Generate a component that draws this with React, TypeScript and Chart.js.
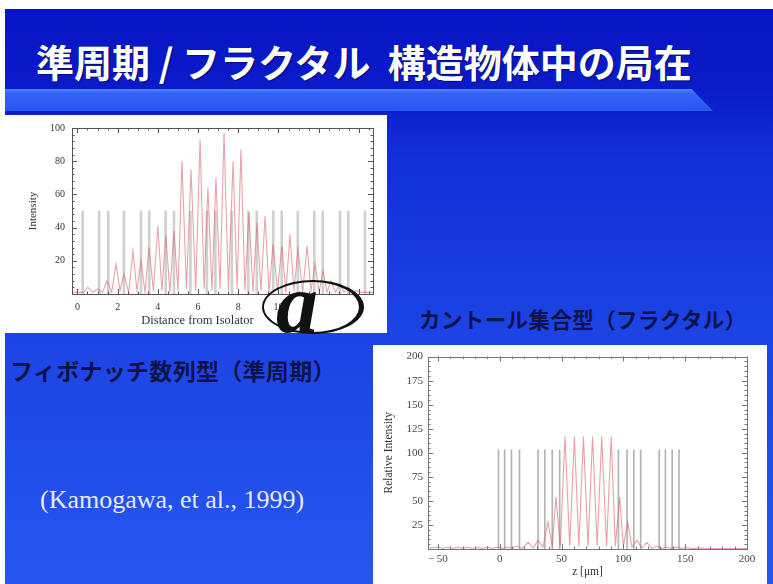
import React, { useEffect, useRef } from "react";
import { Chart, registerables } from "chart.js";

Chart.register(...registerables);

// ---------- text ----------
const TITLE = "準周期 / フラクタル  構造物体中の局在";
const CANTOR_LABEL = "カントール集合型（フラクタル）";
const FIB_LABEL = "フィボナッチ数列型（準周期）";
const CITATION = "(Kamogawa, et al., 1999)";

// ---------- Fibonacci (quasi-periodic) chart ----------
const fibXTicks = [0, 2, 4, 6, 8, 10, 12, 14];
const fibYTicks = [20, 40, 60, 80, 100];
const fibLayerX = [0.26, 1.08, 1.53, 2.31, 3.16, 3.57, 4.39, 4.8, 5.62, 6.44, 6.86, 7.68, 8.5, 8.92, 9.74, 10.16, 10.96, 11.78, 12.2, 13.06, 13.47, 14.3];
const fibLayerHeight = [50, 50, 50, 50, 50, 50, 50, 50, 50, 50, 50, 50, 50, 50, 50, 50, 50, 50, 50, 50, 50, 50];
const fibIntensityX = [-0.27, 0.3, 0.52, 0.75, 1.02, 1.25, 1.47, 1.7, 1.92, 2.12, 2.31, 2.55, 2.76, 2.96, 3.16, 3.36, 3.56, 3.78, 4.0, 4.2, 4.4, 4.6, 4.8, 5.0, 5.2, 5.42, 5.65, 5.88, 6.1, 6.3, 6.49, 6.69, 6.89, 7.09, 7.29, 7.51, 7.74, 7.94, 8.13, 8.33, 8.53, 8.73, 8.93, 9.13, 9.33, 9.53, 9.73, 9.95, 10.17, 10.37, 10.57, 10.77, 10.97, 11.2, 11.42, 11.62, 11.82, 12.02, 12.21, 12.41, 12.61, 12.83, 13.06, 13.26, 13.46, 13.66, 13.86, 14.1, 14.7];
const fibIntensityY = [1, 1, 4, 1, 3, 1, 8, 1, 18, 2, 12, 1, 26, 2, 20, 1, 28, 2, 41, 2, 35, 1, 38, 2, 80, 3, 75, 2, 93, 3, 64, 2, 70, 3, 97, 2, 80, 3, 87, 2, 49, 1, 43, 2, 47, 1, 30, 2, 29, 1, 36, 2, 27, 1, 29, 2, 18, 1, 14, 1, 8, 1, 6, 1, 4, 1, 2, 1, 1];

// ---------- Cantor (fractal) chart ----------
const cantorXTicks = [-50, 0, 50, 100, 150, 200];
const cantorYTicks = [25, 50, 75, 100, 125, 150, 175, 200];
const cantorLayerX = [-1, 4, 9.5, 16, 31, 36.5, 42.5, 48.5, 96, 103, 108.5, 114, 129, 134, 139.5, 145];
const cantorLayerHeight = [103, 103, 103, 103, 103, 103, 103, 103, 103, 103, 103, 103, 103, 103, 103, 103];
const cantorIntensityX = [-58, -50, -46, -42, -38, -34, -30, -26, -22, -18, -14, -10, -6, -2, 2, 6, 10, 14, 18, 23, 27, 31, 35, 39, 42.5, 45.5, 49, 52.8, 56.6, 60.4, 64, 67.7, 71.4, 75.1, 78.8, 82.5, 86.4, 90.2, 93.5, 97, 100, 103.5, 107, 111, 115, 119, 123, 127, 131, 135, 139, 143, 147, 151, 156, 162, 170, 180, 200];
const cantorIntensityY = [1, 2, 0.5, 2, 0.5, 2, 0.5, 2, 0.5, 2, 0.5, 2, 0.5, 2, 0.5, 2, 0.5, 3, 0.5, 7, 1, 9, 2, 28, 3, 54, 3, 117, 3, 117, 3, 117, 3, 117, 3, 117, 3, 117, 3, 54, 3, 28, 2, 9, 1, 7, 0.5, 3, 0.5, 2, 0.5, 2, 0.5, 1.5, 0.5, 1, 0.5, 0.5, 0.5];

const SERIF = "'Liberation Serif', 'DejaVu Serif', serif";
const JP = "'Noto Sans CJK JP', 'Noto Sans', sans-serif";

// frame with inward (Mathematica-style) tick marks on all four sides
const framePlugin = {
  id: "frame",
  afterDatasetsDraw(chart: any, _args: any, opts: any) {
    const { ctx, chartArea: a, scales } = chart;
    const xs = scales.x;
    const ys = scales.y;
    ctx.save();
    ctx.strokeStyle = opts.color;
    ctx.lineWidth = 1;
    ctx.strokeRect(Math.round(a.left) + 0.5, Math.round(a.top) + 0.5, Math.round(a.right - a.left), Math.round(a.bottom - a.top));
    ctx.beginPath();
    const xMarks = (step: number, len: number) => {
      for (let v = Math.ceil(xs.min / step) * step; v <= xs.max + 1e-9; v += step) {
        const p = Math.round(xs.getPixelForValue(v)) + 0.5;
        ctx.moveTo(p, a.bottom);
        ctx.lineTo(p, a.bottom - len);
        ctx.moveTo(p, a.top);
        ctx.lineTo(p, a.top + len);
      }
    };
    const yMarks = (step: number, len: number) => {
      for (let v = Math.ceil(ys.min / step) * step; v <= ys.max + 1e-9; v += step) {
        const p = Math.round(ys.getPixelForValue(v)) + 0.5;
        ctx.moveTo(a.left, p);
        ctx.lineTo(a.left + len, p);
        ctx.moveTo(a.right, p);
        ctx.lineTo(a.right - len, p);
      }
    };
    xMarks(opts.xMajor, 5);
    xMarks(opts.xMinor, 2.5);
    yMarks(opts.yMajor, 5);
    yMarks(opts.yMinor, 2.5);
    ctx.stroke();
    ctx.restore();
  },
};

function FibChart() {
  const ref = useRef<HTMLCanvasElement>(null);
  useEffect(() => {
    const chart = new Chart(ref.current as HTMLCanvasElement, {
      type: "bar",
      data: {
        datasets: [
          {
            type: "line",
            label: "Intensity",
            data: fibIntensityX.map((x, i) => ({ x, y: fibIntensityY[i] })),
            borderColor: "rgba(214, 90, 100, 0.55)",
            borderWidth: 1.1,
            pointRadius: 0,
            tension: 0,
            order: 0,
          } as any,
          {
            type: "bar",
            label: "Layers",
            data: fibLayerX.map((x, i) => ({ x, y: fibLayerHeight[i] })),
            backgroundColor: "#d0d0d0",
            barThickness: 2,
            order: 1,
          } as any,
        ],
      },
      options: {
        animation: false,
        responsive: false,
        devicePixelRatio: 1,
        layout: { padding: { left: 0, right: 14, top: 10, bottom: 0 } },
        plugins: {
          legend: { display: false },
          tooltip: { enabled: false },
          frame: { color: "#555", xMajor: 2, xMinor: 0.5, yMajor: 20, yMinor: 4 },
        } as any,
        scales: {
          x: {
            type: "linear",
            min: -0.27,
            max: 14.7,
            offset: false,
            grid: { display: false, drawTicks: false },
            border: { display: false },
            afterBuildTicks: (s: any) => {
              s.ticks = fibXTicks.map((v) => ({ value: v }));
            },
            afterFit: (s: any) => {
              s.height = 39;
            },
            ticks: {
              padding: 7,
              color: "#333",
              font: { family: SERIF, size: 10 },
              maxRotation: 0,
              autoSkip: false,
              callback: (v: any) => (Number(v) > 10 ? "" : String(v)),
            },
            title: {
              display: true,
              text: "Distance from Isolator                ",
              color: "#333",
              font: { family: SERIF, size: 12.5 },
              padding: { top: 0, bottom: 5 },
            },
          },
          y: {
            type: "linear",
            min: 0,
            max: 100,
            grid: { display: false, drawTicks: false },
            border: { display: false },
            afterBuildTicks: (s: any) => {
              s.ticks = fibYTicks.map((v) => ({ value: v }));
            },
            afterFit: (s: any) => {
              s.width = 67;
            },
            ticks: {
              padding: 7,
              color: "#333",
              font: { family: SERIF, size: 10 },
            },
            title: {
              display: true,
              text: "Intensity",
              color: "#333",
              font: { family: SERIF, size: 11 },
              padding: { top: 22, bottom: 0 },
            },
          },
        },
      },
      plugins: [framePlugin as any],
    });
    return () => chart.destroy();
  }, []);
  return (
    <canvas
      ref={ref}
      width={382}
      height={218}
      style={{ position: "absolute", left: 5, top: 115, width: 382, height: 218, background: "#fff" }}
    />
  );
}

function CantorChart() {
  const ref = useRef<HTMLCanvasElement>(null);
  useEffect(() => {
    const chart = new Chart(ref.current as HTMLCanvasElement, {
      type: "bar",
      data: {
        datasets: [
          {
            type: "line",
            label: "Relative Intensity",
            data: cantorIntensityX.map((x, i) => ({ x, y: cantorIntensityY[i] })),
            borderColor: "rgba(214, 84, 96, 0.55)",
            borderWidth: 1.1,
            pointRadius: 0,
            tension: 0,
            order: 0,
          } as any,
          {
            type: "bar",
            label: "Layers",
            data: cantorLayerX.map((x, i) => ({ x, y: cantorLayerHeight[i] })),
            backgroundColor: "#b4b4b4",
            barThickness: 1,
            order: 1,
          } as any,
        ],
      },
      options: {
        animation: false,
        responsive: false,
        devicePixelRatio: 1,
        layout: { padding: { left: 0, right: 20, top: 9, bottom: 0 } },
        plugins: {
          legend: { display: false },
          tooltip: { enabled: false },
          frame: { color: "#777", xMajor: 50, xMinor: 10, yMajor: 25, yMinor: 5 },
        } as any,
        scales: {
          x: {
            type: "linear",
            min: -58,
            max: 200,
            offset: false,
            grid: { display: false, drawTicks: false },
            border: { display: false },
            afterBuildTicks: (s: any) => {
              s.ticks = cantorXTicks.map((v) => ({ value: v }));
            },
            afterFit: (s: any) => {
              s.height = 35;
            },
            ticks: {
              padding: 4,
              color: "#444",
              font: { family: SERIF, size: 11 },
              maxRotation: 0,
              autoSkip: false,
              callback: (v: any) => (Number(v) < 0 ? "\u2212 " + Math.abs(Number(v)) : String(v)),
            },
            title: {
              display: true,
              text: "z [\u03bcm]",
              color: "#333",
              font: { family: SERIF, size: 11.5 },
              padding: { top: 0, bottom: 5 },
            },
          },
          y: {
            type: "linear",
            min: 0,
            max: 200,
            grid: { display: false, drawTicks: false },
            border: { display: false },
            afterBuildTicks: (s: any) => {
              s.ticks = cantorYTicks.map((v) => ({ value: v }));
            },
            afterFit: (s: any) => {
              s.width = 55;
            },
            ticks: {
              padding: 5,
              color: "#444",
              font: { family: SERIF, size: 11 },
            },
            title: {
              display: true,
              text: "Relative Intensity",
              color: "#333",
              font: { family: SERIF, size: 11.5 },
              padding: { top: 9, bottom: 0 },
            },
          },
        },
      },
      plugins: [framePlugin as any],
    });
    return () => chart.destroy();
  }, []);
  return (
    <canvas
      ref={ref}
      width={394}
      height={239}
      style={{ position: "absolute", left: 373, top: 345, width: 394, height: 239, background: "#fff" }}
    />
  );
}

export default function App() {
  return (
    <div
      style={{
        position: "fixed",
        left: 0,
        top: 0,
        width: 773,
        height: 584,
        overflow: "hidden",
        background: "#fff",
      }}
    >
      {/* slide background */}
      <div
        style={{
          position: "absolute",
          left: 5,
          top: 9,
          right: 0,
          bottom: 0,
          background: "linear-gradient(to bottom, #0815c4 0px, #0a1bca 80px, #1230d8 150px, #1c44e4 330px, #2656ee 575px)",
        }}
      />
      {/* light band under the title */}
      <div
        style={{
          position: "absolute",
          left: 5,
          top: 89,
          width: 708,
          height: 22,
          background: "linear-gradient(to bottom, #5a82ff 0px, #3563f6 4px, #2a56ee 22px)",
          clipPath: "polygon(0 0, 97% 0, 100% 100%, 0 100%)",
        }}
      />
      {/* title */}
      <div
        style={{
          position: "absolute",
          left: 36,
          top: 35,
          fontFamily: JP,
          fontWeight: 700,
          fontSize: 38,
          lineHeight: "52px",
          color: "#fff",
          whiteSpace: "pre",
          textShadow: "1px 1px 1px rgba(0,0,60,0.6)",
        }}
      >
        {TITLE}
      </div>

      <FibChart />
      <CantorChart />

      {/* @ logo over the first chart */}
      <div
        style={{
          position: "absolute",
          left: 262,
          top: 280,
          width: 95,
          height: 50,
          border: "2px solid #111",
          borderRightWidth: 5,
          borderRadius: "50%",
        }}
      />
      <div
        style={{
          position: "absolute",
          left: 276,
          top: 262,
          fontFamily: SERIF,
          fontStyle: "italic",
          fontWeight: 700,
          fontSize: 84,
          lineHeight: "84px",
          color: "#111",
        }}
      >
        a
      </div>

      {/* captions */}
      <div
        style={{
          position: "absolute",
          left: 419,
          top: 304,
          fontFamily: JP,
          fontWeight: 700,
          fontSize: 21.5,
          letterSpacing: 0.4,
          lineHeight: "30px",
          color: "#10124a",
          whiteSpace: "pre",
        }}
      >
        {CANTOR_LABEL}
      </div>
      <div
        style={{
          position: "absolute",
          left: 10,
          top: 355,
          fontFamily: JP,
          fontWeight: 700,
          fontSize: 23,
          letterSpacing: 0.3,
          lineHeight: "30px",
          color: "#10124a",
          whiteSpace: "pre",
        }}
      >
        {FIB_LABEL}
      </div>
      <div
        style={{
          position: "absolute",
          left: 40,
          top: 484,
          fontFamily: SERIF,
          fontSize: 26,
          lineHeight: "32px",
          color: "#e6e8ff",
          whiteSpace: "pre",
        }}
      >
        {CITATION}
      </div>
    </div>
  );
}
